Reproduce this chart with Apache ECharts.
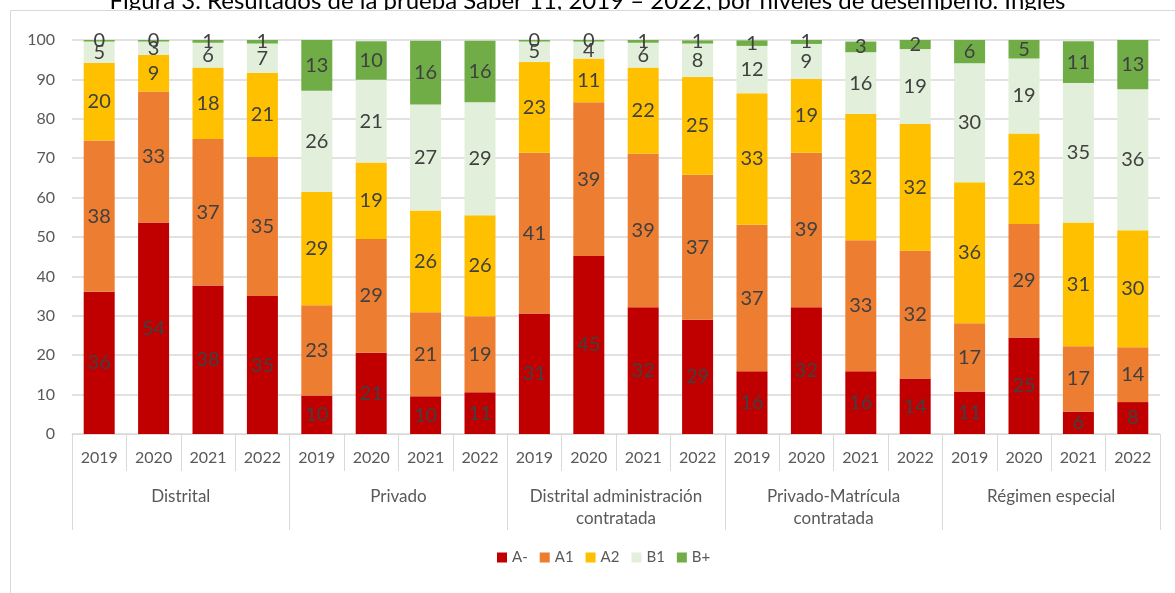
<!DOCTYPE html>
<html>
<head>
<meta charset="utf-8">
<script src="https://cdn.jsdelivr.net/npm/echarts@6/dist/echarts.min.js"></script>
<style>
  html, body { margin: 0; padding: 0; background: #fff; }
  #chart { width: 1175px; height: 593px; }
</style>
</head>
<body>
<div id="chart"></div>
<script>
// datos (porcentaje por nivel)
var years = ['2019', '2020', '2021', '2022', '2019', '2020', '2021', '2022', '2019', '2020', '2021', '2022',
             '2019', '2020', '2021', '2022', '2019', '2020', '2021', '2022'];
var groups = ['Distrital', 'Privado', 'Distrital administración\ncontratada', 'Privado-Matrícula\ncontratada', 'Régimen especial'];
var levels = ['A-', 'A1', 'A2', 'B1', 'B+'];
var yTicks = [0, 10, 20, 30, 40, 50, 60, 70, 80, 90, 100];

var aMinus = [36.1, 53.7, 37.7, 35.0, 9.8, 20.6, 9.6, 10.6, 30.6, 45.2, 32.2, 29.0, 15.9, 32.2, 15.9, 14.1, 10.8, 24.5, 5.7, 8.1];
var a1 = [38.4, 33.2, 37.2, 35.3, 22.9, 28.9, 21.3, 19.3, 40.8, 39.0, 38.9, 36.8, 37.2, 39.2, 33.3, 32.4, 17.3, 28.8, 16.6, 13.9];
var a2 = [19.7, 9.3, 18.1, 21.4, 28.7, 19.4, 25.8, 25.6, 23.0, 11.1, 21.9, 24.9, 33.4, 18.7, 32.0, 32.2, 35.8, 23.0, 31.4, 29.7];
var b1 = [5.4, 3.4, 6.3, 7.4, 25.7, 21.0, 26.9, 28.7, 5.2, 4.3, 6.3, 8.4, 12.0, 8.9, 15.7, 19.0, 30.2, 19.0, 35.4, 35.8];
var bPlus = [0.4, 0.4, 0.7, 0.9, 12.9, 9.8, 16.2, 15.6, 0.4, 0.4, 0.7, 0.8, 1.4, 1.0, 2.7, 2.3, 5.9, 4.7, 10.6, 12.6];

var colors = ['#C00000', '#ED7D31', '#FFC000', '#E2EFDA', '#70AD47'];
var font = 'Lato';

var myChart = echarts.init(document.getElementById('chart'));

var seriesData = [aMinus, a1, a2, b1, bPlus];
var series = [];
for (var i = 0; i < levels.length; i++) {
    series.push({
        name: levels[i],
        type: 'bar',
        stack: 'total',
        barWidth: 31,
        xAxisIndex: 0,
        itemStyle: { color: colors[i] },
        label: {
            show: true,
            position: 'inside',
            color: '#404040',
            fontFamily: font,
            fontSize: 20,
            formatter: function (p) { return Math.round(p.value); }
        },
        data: seriesData[i]
    });
}

var option = {
    backgroundColor: '#fff',
    animation: false,
    color: colors,
    graphic: [
        {
            type: 'text',
            z: -20,
            left: 'center',
            top: -11,
            style: {
                text: 'Figura 3. Resultados de la prueba Saber 11, 2019 – 2022, por niveles de desempeño. Inglés',
                font: '24px Lato',
                fill: '#000'
            }
        },
        {
            type: 'rect',
            z: -10,
            shape: { x: 10.5, y: 10.5, width: 1200, height: 620 },
            style: { fill: '#fff', stroke: '#d9d9d9', lineWidth: 1 }
        }
    ],
    legend: {
        data: levels,
        bottom: 23,
        left: 492,
        itemWidth: 10,
        itemHeight: 10,
        itemGap: 12,
        icon: 'rect',
        textStyle: { color: '#595959', fontFamily: font, fontSize: 15 }
    },
    grid: {
        left: 72,
        right: 15,
        top: 40,
        bottom: 159
    },
    xAxis: [
        {
            type: 'category',
            position: 'bottom',
            data: years,
            axisLine: { lineStyle: { color: '#d9d9d9' } },
            axisTick: { show: true, interval: 0, length: 37, lineStyle: { color: '#d9d9d9' } },
            axisLabel: { interval: 0, margin: 16, color: '#595959', fontFamily: font, fontSize: 16 }
        },
        {
            type: 'category',
            position: 'bottom',
            data: groups,
            axisLine: { show: false },
            axisTick: { show: true, interval: 0, length: 96, lineStyle: { color: '#d9d9d9' } },
            axisLabel: { interval: 0, margin: 52, lineHeight: 22, color: '#595959', fontFamily: font, fontSize: 17 }
        }
    ],
    yAxis: {
        type: 'value',
        min: yTicks[0],
        max: yTicks[yTicks.length - 1],
        interval: 10,
        axisLine: { show: false },
        axisTick: { show: false },
        splitLine: { lineStyle: { color: '#d9d9d9', width: 1.5 } },
        axisLabel: { margin: 17, color: '#595959', fontFamily: font, fontSize: 16 }
    },
    series: series
};

myChart.setOption(option);
</script>
</body>
</html>
